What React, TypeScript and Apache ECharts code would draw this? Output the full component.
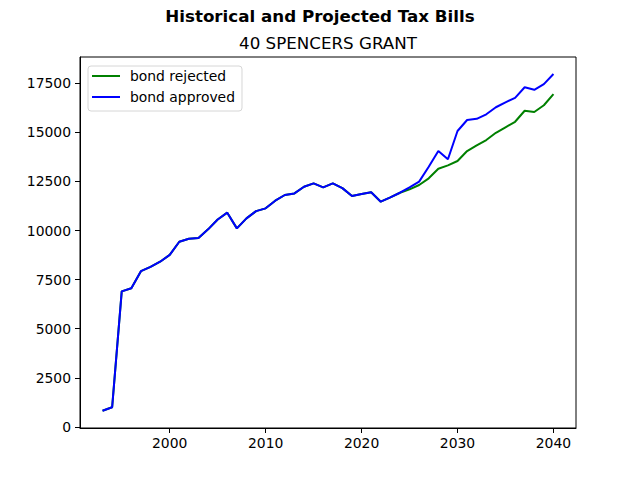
import React, { useEffect, useRef } from "react";
import * as echarts from "echarts";

const years = [
  1993, 1994, 1995, 1996, 1997, 1998, 1999, 2000, 2001, 2002, 2003, 2004,
  2005, 2006, 2007, 2008, 2009, 2010, 2011, 2012, 2013, 2014, 2015, 2016,
  2017, 2018, 2019, 2020, 2021, 2022, 2023, 2024, 2025, 2026, 2027, 2028,
  2029, 2030, 2031, 2032, 2033, 2034, 2035, 2036, 2037, 2038, 2039, 2040,
];

const bondRejected = [
  820, 1000, 6900, 7060, 7930, 8150, 8410, 8760, 9430, 9580, 9620, 10060,
  10560, 10910, 10110, 10620, 10990, 11130, 11520, 11810, 11890, 12230, 12400, 12200,
  12400, 12160, 11760, 11860, 11950, 11470, 11690, 11925, 12100, 12320, 12660, 13150,
  13320, 13540, 14050, 14340, 14610, 14980, 15260, 15540, 16100, 16040, 16380, 16950,
];

const bondApproved = [
  820, 1000, 6900, 7060, 7930, 8150, 8410, 8760, 9430, 9580, 9620, 10060,
  10560, 10910, 10110, 10620, 10990, 11130, 11520, 11810, 11890, 12230, 12400, 12200,
  12400, 12160, 11760, 11860, 11950, 11470, 11690, 11925, 12200, 12490, 13250, 14050,
  13630, 15070, 15630, 15690, 15920, 16280, 16530, 16760, 17300, 17170, 17460, 17970,
];

const xTicks = [2000, 2010, 2020, 2030, 2040];
const yTicks = [0, 2500, 5000, 7500, 10000, 12500, 15000, 17500];

const supTitle = "Historical and Projected Tax Bills";
const subTitle = "40 SPENCERS GRANT";
const seriesNames = ["bond rejected", "bond approved"];

export default function App() {
  const ref = useRef<HTMLDivElement>(null);

  useEffect(() => {
    document.body.style.margin = "0";
    const chart = echarts.init(ref.current!, null, { renderer: "svg" });
    const font = "DejaVu Sans";
    const axisCommon = {
      splitLine: { show: false },
      axisLine: { show: true, onZero: false, lineStyle: { color: "#000", width: 1 } },
    };
    chart.setOption({
      animation: false,
      backgroundColor: "#ffffff",
      textStyle: { fontFamily: font },
      grid: {
        left: 80,
        right: 64,
        top: 57,
        bottom: 52,
        show: true,
        borderColor: "#000",
        borderWidth: 1,
        containLabel: false,
        outerBoundsMode: "none",
      },
      xAxis: {
        type: "value",
        min: 1990.65,
        max: 2042.35,
        ...axisCommon,
        axisTick: { show: true, length: 5, lineStyle: { color: "#000" }, customValues: xTicks },
        axisLabel: {
          customValues: xTicks,
          formatter: (v: number) => String(v),
          color: "#000",
          fontSize: 13.9,
          margin: 8,
          fontFamily: font,
        },
      },
      yAxis: {
        type: "value",
        min: -59,
        max: 18839,
        ...axisCommon,
        axisTick: { show: true, length: 5, lineStyle: { color: "#000" }, customValues: yTicks },
        axisLabel: {
          customValues: yTicks,
          formatter: (v: number) => String(v),
          color: "#000",
          fontSize: 13.9,
          margin: 9,
          fontFamily: font,
        },
      },
      legend: {
        left: 88,
        top: 66,
        orient: "vertical",
        icon: "path://M0,0H28V2H0Z",
        itemWidth: 28,
        itemHeight: 14,
        itemGap: 7,
        padding: [3, 7, 7, 4],
        borderColor: "#d6d6d6",
        borderWidth: 1,
        borderRadius: 3,
        backgroundColor: "rgba(255,255,255,0.8)",
        textStyle: { fontFamily: font, fontSize: 13.9, color: "#000", padding: [0, 0, 0, 5] },
        data: seriesNames,
      },
      graphic: [
        {
          type: "text",
          x: 320,
          y: 16,
          style: {
            text: supTitle,
            fontFamily: font,
            fontSize: 16.7,
            fontWeight: "bold",
            fill: "#000",
            align: "center",
            verticalAlign: "middle",
          },
        },
        {
          type: "text",
          x: 328,
          y: 43,
          style: {
            text: subTitle,
            fontFamily: font,
            fontSize: 16.7,
            fill: "#000",
            align: "center",
            verticalAlign: "middle",
          },
        },
      ],
      series: [
        {
          name: seriesNames[0],
          type: "line",
          data: years.map((y, i) => [y, bondRejected[i]]),
          symbol: "none",
          showSymbol: false,
          lineStyle: { color: "#008000", width: 2 },
          itemStyle: { color: "#008000" },
        },
        {
          name: seriesNames[1],
          type: "line",
          data: years.map((y, i) => [y, bondApproved[i]]),
          symbol: "none",
          showSymbol: false,
          lineStyle: { color: "#0000ff", width: 2 },
          itemStyle: { color: "#0000ff" },
        },
      ],
    });
    return () => chart.dispose();
  }, []);

  return (
    <div
      ref={ref}
      style={{ position: "absolute", left: 0, top: 0, width: 640, height: 480 }}
    />
  );
}
